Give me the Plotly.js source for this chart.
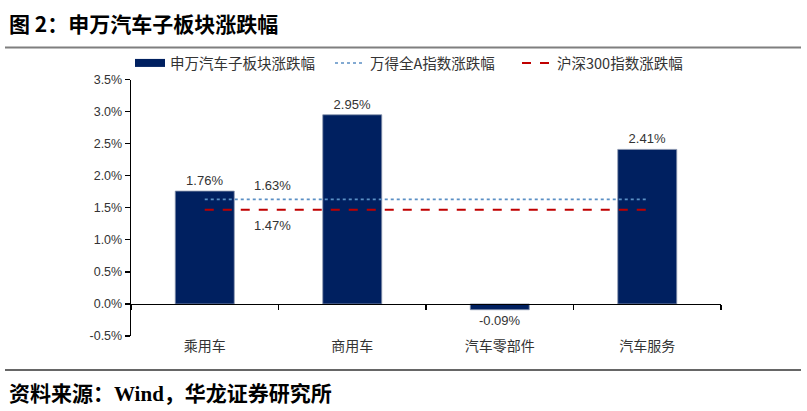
<!DOCTYPE html>
<html>
<head>
<meta charset="utf-8">
<script src="https://cdn.plot.ly/plotly-3.0.1.min.js"></script>
<style>html,body{margin:0;padding:0;background:#fff;}#chart{width:807px;height:411px;}</style>
</head>
<body>
<div id="chart"></div>
<script>
const categories = ["乘用车", "商用车", "汽车零部件", "汽车服务"];
const sectorChange = [1.76, 2.95, -0.09, 2.41];
const windAllA = [1.63, 1.63, 1.63, 1.63];
const csi300 = [1.47, 1.47, 1.47, 1.47];
const yTicks = [-0.5, 0, 0.5, 1.0, 1.5, 2.0, 2.5, 3.0, 3.5];
const yTickLabels = ["-0.5%", "0.0%", "0.5%", "1.0%", "1.5%", "2.0%", "2.5%", "3.0%", "3.5%"];
const names = ["申万汽车子板块涨跌幅", "万得全A指数涨跌幅", "沪深300指数涨跌幅"];

const CJK = "'Noto Sans CJK SC', 'Liberation Sans', sans-serif";
const NUM = "'Liberation Sans', 'Noto Sans CJK SC', sans-serif";
const NAVY = "#002060";

const traces = [
  {
    type: "bar", x: categories, y: sectorChange, xaxis: "x", yaxis: "y",
    width: 0.4, showlegend: false,
    marker: {color: NAVY, line: {color: "#8a96ad", width: 0.8}},
    texttemplate: "%{y:.2f}%", textposition: "outside", cliponaxis: false,
    textfont: {family: NUM, size: 13, color: "#333"},
    hoverinfo: "skip"
  },
  {
    type: "scatter", mode: "lines", x: categories, y: windAllA, xaxis: "x2", yaxis: "y",
    showlegend: false, line: {color: "#5b8fc4", width: 1.6, dash: "dot"}, hoverinfo: "skip"
  },
  {
    type: "scatter", mode: "lines", x: categories, y: csi300, xaxis: "x2", yaxis: "y",
    showlegend: false, line: {color: "#c00000", width: 2, dash: "dash"}, hoverinfo: "skip"
  },
  // legend entries
  {type: "scatter", mode: "lines", x: [null], y: [null], name: names[0], legend: "legend",
   line: {color: NAVY, width: 8}},
  {type: "scatter", mode: "lines", x: [null], y: [null], name: names[1], legend: "legend2",
   line: {color: "#5b8fc4", width: 1.6, dash: "dot"}},
  {type: "scatter", mode: "lines", x: [null], y: [null], name: names[2], legend: "legend3",
   line: {color: "#c00000", width: 2, dash: "dash"}}
];

function px2x(px) { return (px - 131) / 590; }
function py2y(py) { return (336.5 - py) / 260; }

const legendBase = {
  orientation: "h", xref: "container", yref: "container", yanchor: "middle", xanchor: "left",
  y: 1 - 63 / 411, bgcolor: "rgba(0,0,0,0)", borderwidth: 0,
  font: {family: CJK, size: 14.5, color: "#333"}, itemwidth: 30
};

const layout = {
  width: 807, height: 411,
  margin: {l: 131, r: 86, t: 76.5, b: 74.5},
  paper_bgcolor: "#fff", plot_bgcolor: "#fff",
  showlegend: true,
  legend: Object.assign({}, legendBase, {x: 130 / 807}),
  legend2: Object.assign({}, legendBase, {x: 330 / 807}),
  legend3: Object.assign({}, legendBase, {x: 517 / 807}),
  xaxis: {
    type: "category", showline: false, ticks: "", showgrid: false, zeroline: false,
    tickfont: {family: CJK, size: 14, color: "#333"}, fixedrange: true
  },
  xaxis2: {
    type: "category", overlaying: "x", matches: "x", anchor: "free", position: 0.125,
    showline: true, linecolor: "#000", linewidth: 1.3,
    ticks: "outside", tickson: "boundaries", ticklen: 5, tickcolor: "#000", tickwidth: 1.3,
    showticklabels: false, showgrid: false, zeroline: false
  },
  yaxis: {
    range: [-0.5, 3.5], tickmode: "array", tickvals: yTicks, ticktext: yTickLabels,
    showline: true, linecolor: "#000", linewidth: 1.3,
    ticks: "outside", ticklen: 5, tickcolor: "#000", tickwidth: 1.3,
    showgrid: false, zeroline: false,
    tickfont: {family: NUM, size: 12.5, color: "#333"}
  },
  annotations: [
    {xref: "x", yref: "y", x: 0.46, y: windAllA[0], text: windAllA[0].toFixed(2) + "%",
     showarrow: false, yanchor: "bottom", yshift: 4, font: {family: NUM, size: 13, color: "#333"}},
    {xref: "x", yref: "y", x: 0.46, y: csi300[0], text: csi300[0].toFixed(2) + "%",
     showarrow: false, yanchor: "top", yshift: -6, font: {family: NUM, size: 13, color: "#333"}},
    {xref: "paper", yref: "paper", x: px2x(7), y: py2y(19), xanchor: "left", yanchor: "middle",
     text: "<b>图 2：申万汽车子板块涨跌幅</b>", showarrow: false,
     font: {family: CJK, size: 21, color: "#000"}},
    {xref: "paper", yref: "paper", x: px2x(7), y: py2y(393), xanchor: "left", yanchor: "middle",
     text: "<b>资料来源：<span style=\"font-family:'Liberation Serif'\">Wind</span>，华龙证券研究所</b>",
     showarrow: false, font: {family: CJK, size: 21, color: "#000"}}
  ],
  shapes: [
    {type: "line", xref: "paper", yref: "paper", x0: px2x(5), x1: px2x(801), y0: py2y(44), y1: py2y(44),
     line: {color: "#7f7f7f", width: 2}},
    {type: "line", xref: "paper", yref: "paper", x0: px2x(5), x1: px2x(801), y0: py2y(371), y1: py2y(371),
     line: {color: "#333", width: 1.5}}
  ]
};

Plotly.newPlot("chart", traces, layout, {displayModeBar: false, staticPlot: true});
</script>
</body>
</html>
